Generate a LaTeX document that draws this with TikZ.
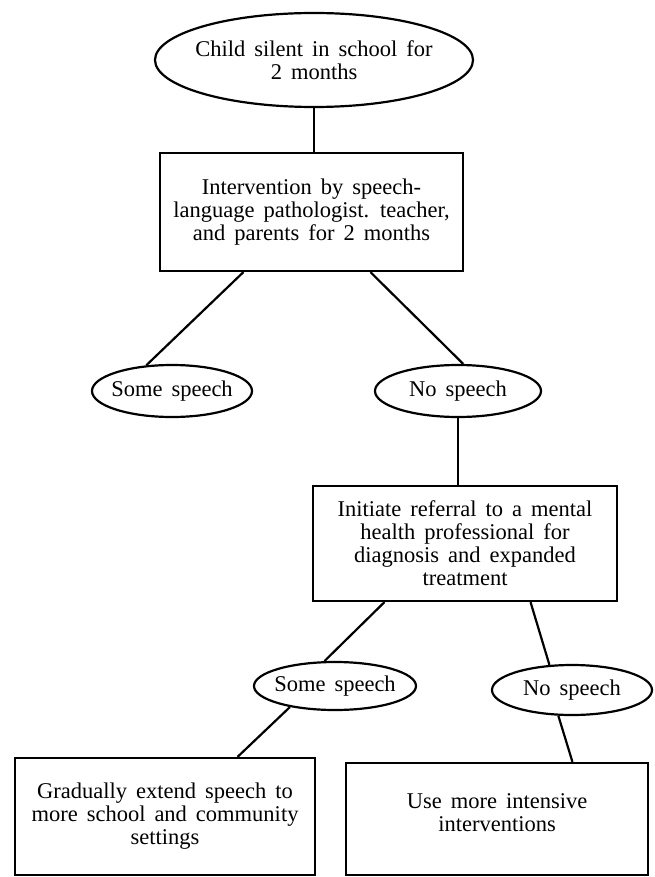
\documentclass[tikz,border=0pt]{standalone}
\usepackage{fontspec}
\setmainfont[WordSpace=1.6]{Liberation Serif}
\usetikzlibrary{shapes.geometric,calc}
\newcommand{\zb}[1]{\makebox[0pt][c]{#1}}
\begin{document}
\begin{tikzpicture}[x=1pt,y=-1pt,
  every node/.style={font=\fontsize{22.5}{23}\selectfont, align=center, inner sep=0pt},
  oval/.style={draw, ellipse, line width=2.2pt},
  box/.style={draw, rectangle, line width=2.2pt},
  conn/.style={line width=2.2pt}]
\useasboundingbox (0,0) rectangle (655,877);
\node[oval, minimum width=318pt, minimum height=94pt] (e1) at (314,60) {\zb{Child silent in school for}\\\zb{2 months}};
\node[box, minimum width=303pt, minimum height=118pt] (b1) at (311.5,212) {Intervention by speech-\\language pathologist. teacher,\\and parents for 2 months};
\node[oval, minimum width=160pt, minimum height=52pt] (s1) at (172,391) {\zb{Some speech}};
\node[oval, minimum width=166pt, minimum height=52pt] (n1) at (458,391) {\zb{No speech}};
\node[box, minimum width=304pt, minimum height=115pt] (b2) at (465,543.5) {Initiate referral to a mental\\health professional for\\diagnosis and expanded\\treatment};
\node[oval, minimum width=162pt, minimum height=48pt] (s2) at (335,686) {\zb{Some speech}};
\node[oval, minimum width=160pt, minimum height=50pt] (n2) at (572,690) {\zb{No speech}};
\node[box, minimum width=300pt, minimum height=117pt] (b3) at (165,816.5) {Gradually extend speech to\\more school and community\\settings};
\node[box, minimum width=302pt, minimum height=112pt] (b4) at (497,819) {Use more intensive\\interventions\\[-11pt]};
\draw[conn] (e1.south) -- (e1.south |- b1.north);
\draw[conn] ($(b1.south west)!0.277!(b1.south east)$) -- (s1.135);
\draw[conn] ($(b1.south west)!0.693!(b1.south east)$) -- (n1.79);
\draw[conn] (n1.south) -- (n1.south |- b2.north);
\draw[conn] ($(b2.south west)!0.237!(b2.south east)$) -- (s2.113);
\draw[conn] ($(b2.south west)!0.714!(b2.south east)$) -- (n2.132);
\draw[conn] (s2.205) -- ($(b3.north west)!0.74!(b3.north east)$);
\draw[conn] (n2.242) -- ($(b4.north west)!0.748!(b4.north east)$);
\end{tikzpicture}
\end{document}
